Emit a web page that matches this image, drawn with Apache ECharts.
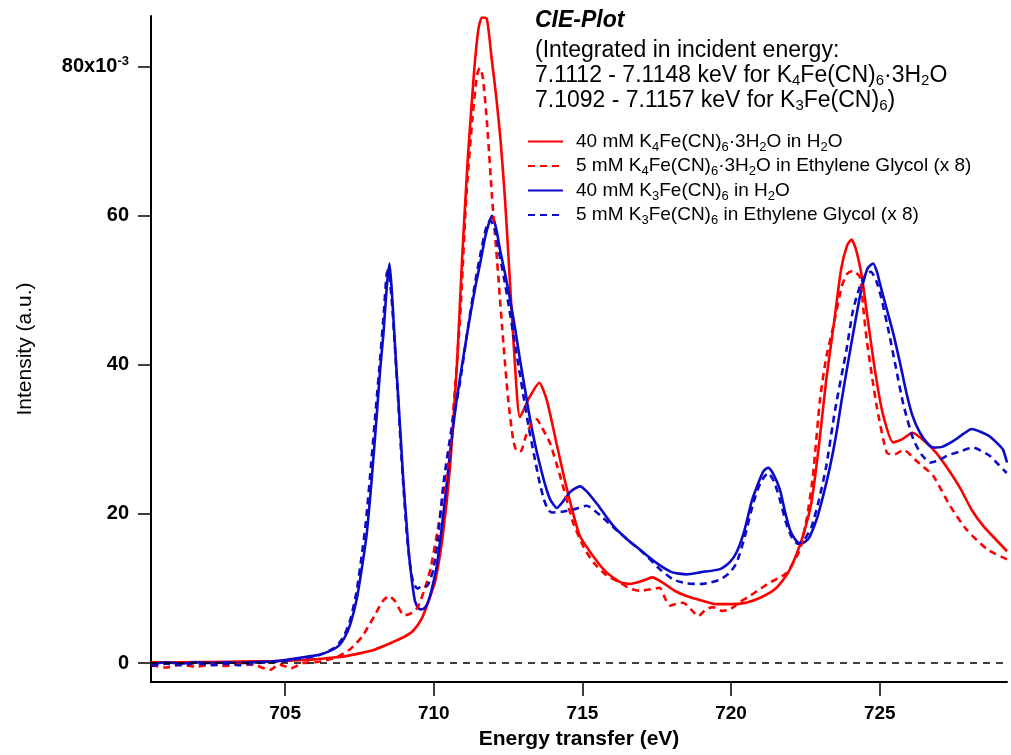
<!DOCTYPE html>
<html>
<head>
<meta charset="utf-8">
<script src="https://cdn.jsdelivr.net/npm/echarts@6/dist/echarts.min.js"></script>
<style>
html,body{margin:0;padding:0;background:#fff;}
#chart{width:1011px;height:755px;}
</style>
</head>
<body>
<div id="chart"></div>
<script>
// Intensity values in units of 1e-3 (axis reads "80x10^-3")
const xTicks = [705, 710, 715, 720, 725];
const yTicks = [0, 20, 40, 60, 80];

const seriesNames = [
  '40 mM K4Fe(CN)6·3H2O in H2O',
  '5 mM K4Fe(CN)6·3H2O in Ethylene Glycol (x 8)',
  '40 mM K3Fe(CN)6 in H2O',
  '5 mM K3Fe(CN)6 in Ethylene Glycol (x 8)'
];
const legendRich = [
  '{t|40 mM K}{s|4}{t|Fe(CN)}{s|6}{t|·3H}{s|2}{t|O in H}{s|2}{t|O}',
  '{t|5 mM K}{s|4}{t|Fe(CN)}{s|6}{t|·3H}{s|2}{t|O in Ethylene Glycol (x 8)}',
  '{t|40 mM K}{s|3}{t|Fe(CN)}{s|6}{t| in H}{s|2}{t|O}',
  '{t|5 mM K}{s|3}{t|Fe(CN)}{s|6}{t| in Ethylene Glycol (x 8)}'
];

const redSolidE = [700.5,701.5,702.5,703.5,704.5,705.0,705.5,706.0,706.5,707.0,707.5,708.0,708.5,709.0,709.3,709.6,709.85,710.05,710.3,710.55,710.78,710.95,711.15,711.35,711.5,711.62,711.78,711.95,712.1,712.25,712.4,712.55,712.7,712.9,713.2,713.55,713.8,714.1,714.45,714.9,715.35,715.8,716.25,716.6,717.0,717.35,717.7,718.1,718.5,719.0,719.5,720.0,720.5,721.0,721.5,721.9,722.2,722.45,722.7,722.95,723.2,723.45,723.7,723.9,724.05,724.2,724.4,724.6,724.85,725.1,725.45,725.75,726.1,726.5,726.9,727.3,727.7,728.1,728.5,728.9,729.28];
const redSolidI = [0.1,0.1,0.15,0.2,0.25,0.3,0.4,0.5,0.7,0.9,1.3,1.8,2.6,3.5,4.3,6.0,8.6,11.0,17,26.4,40,54,68,79,85,86.6,86.5,81,76,70,62,52,42,33.0,35.5,37.6,35.3,30.0,23.8,17.2,14.4,12.2,10.9,10.6,11.0,11.5,10.8,9.7,9.0,8.4,7.9,7.9,8.1,8.8,10.0,12.0,14.6,17.5,21.5,29,38,45.3,52.8,56.0,56.8,55.5,51.8,46.0,39.0,33.5,29.6,30.0,30.9,29.8,28.2,26.0,23.5,20.5,18.3,16.6,15.0];

const redDashE = [700.5,701,701.5,702,702.5,703,703.5,704,704.5,704.8,705.2,705.6,706.0,706.4,706.75,707.2,707.6,708.0,708.3,708.5,708.7,709.0,709.2,709.45,709.7,709.9,710.2,710.55,710.88,711.1,711.3,711.45,711.55,711.65,711.8,711.96,712.13,712.3,712.5,712.67,712.8,712.95,713.1,713.3,713.46,713.65,713.91,714.25,714.69,715.05,715.37,715.8,716.26,716.6,716.94,717.3,717.6,717.8,717.95,718.2,718.39,718.65,718.9,719.15,719.4,719.7,719.96,720.3,720.63,721.0,721.3,721.6,721.87,722.1,722.32,722.55,722.75,722.99,723.2,723.44,723.72,723.9,724.1,724.33,724.45,724.56,724.9,725.24,725.5,725.8,726.24,726.8,727.36,727.92,728.6,729.28];
const redDashI = [-0.3,-0.6,-0.2,-0.5,-0.2,-0.4,-0.1,-0.3,-0.9,-0.2,-0.7,0.0,0.1,0.4,0.8,1.9,3.6,6.3,8.4,9.0,8.3,6.4,6.6,7.4,10.0,12.8,19.5,29.0,46.0,63,73,78.8,79.8,78.6,72,62.5,54,45,35.5,30.0,28.4,28.5,30.5,32.2,32.7,31.5,29.5,25.1,18.8,15.5,13.5,11.8,10.8,10.0,9.7,9.9,10.1,8.5,7.7,8.0,8.1,7.2,6.3,7.2,7.5,7.0,7.2,8.2,9.0,10.0,10.8,11.4,12.1,13.5,15.3,19.5,25,35.3,41,45.2,50.5,52.2,52.6,51.8,47.5,43.4,34.4,28.2,28.0,28.6,27.1,25.1,21.1,17.9,15.3,13.9];

const blueSolidE = [700.5,701,701.5,702,702.5,703,703.5,704,704.5,705.0,705.5,706.0,706.3,706.6,706.8,707.0,707.2,707.41,707.6,707.75,707.92,708.08,708.2,708.31,708.42,708.51,708.58,708.64,708.72,708.81,708.9,708.98,709.07,709.15,709.26,709.37,709.5,709.6,709.72,709.82,709.95,710.1,710.27,710.44,710.6,710.77,711.0,711.22,711.4,711.56,711.75,711.96,712.1,712.23,712.4,712.57,712.74,712.9,713.07,713.24,713.4,713.57,713.74,713.91,714.14,714.35,714.6,714.92,715.15,715.5,716.04,716.5,717.0,717.5,718.0,718.5,719.0,719.63,719.95,720.19,720.45,720.7,720.95,721.1,721.25,721.4,721.64,721.82,721.98,722.15,722.32,722.5,722.65,722.88,723.1,723.33,723.55,723.72,723.92,724.11,724.3,724.44,724.6,724.78,724.92,725.0,725.2,725.45,725.68,725.9,726.1,726.35,726.6,726.8,727.1,727.48,727.8,728.09,728.4,728.7,729.0,729.15,729.28];
const blueSolidI = [-0.2,0.1,-0.1,0.1,0.0,0.1,0.0,0.15,0.2,0.4,0.7,1.0,1.3,1.8,2.3,3.4,5.3,8.6,13.2,17.5,25,33.1,39.5,44.3,50.5,53.6,50.5,46.5,41,35.3,29.5,24.2,19.5,15.3,11.2,8.3,7.3,7.2,7.5,8.3,10.2,13.0,18.2,24.2,30,35.3,41.2,46.5,50.5,53.6,57.5,60.0,58.3,55.4,52.2,48.7,44.8,40.7,36.7,32.7,29.5,26.6,24.0,22.0,20.8,21.7,23.0,23.7,23.0,21.3,18.4,16.6,15.0,13.4,12.2,11.9,12.2,12.6,13.5,14.9,17.8,21.8,24.5,25.8,26.2,25.5,23.3,20.2,17.9,16.6,16.0,16.3,17.0,19.3,22.5,26.4,31,35.3,40,44.3,48.5,51.0,53.0,53.6,52.3,51.0,48.0,44.3,40.3,36.2,33.2,30.9,29.5,28.9,29.0,29.8,30.7,31.4,31.0,30.4,29.3,28.6,26.9];

const blueDashE = [700.5,701,701.5,702,702.5,703,703.5,704,704.5,705,705.5,706,706.3,706.6,706.8,707.0,707.2,707.4,707.58,707.72,707.9,708.05,708.2,708.32,708.44,708.52,708.6,708.7,708.8,708.9,709.0,709.1,709.2,709.31,709.45,709.6,709.76,709.88,709.99,710.15,710.33,710.6,710.88,711.15,711.39,711.6,711.75,711.89,712.05,712.2,712.37,712.54,712.7,712.87,713.04,713.2,713.37,713.54,713.7,713.84,713.97,714.3,714.69,715.14,715.6,716.04,716.6,717.15,717.6,718.06,718.5,718.95,719.3,719.63,719.95,720.19,720.45,720.75,721.0,721.25,721.45,721.65,721.85,722.05,722.25,722.45,722.7,722.95,723.2,723.5,723.88,724.1,724.33,724.5,724.7,724.88,725.05,725.3,725.55,725.8,726.13,726.4,726.69,727.0,727.25,727.7,728.14,728.4,728.7,729.0,729.27];
const blueDashI = [-0.4,-0.1,-0.3,0.0,-0.3,-0.1,-0.3,0.0,0.1,0.3,0.6,0.9,1.3,1.9,2.6,3.8,5.9,9.5,14.5,19,27,34,41,47,52.7,51.5,48,42,35.5,28.5,22.5,17,13.3,10.8,10.0,10.3,10.3,11.2,12.6,17,24.2,31.5,37.6,45,51.0,55.5,58.2,59.4,58.4,55,51.5,47.5,43.5,39.4,35.3,31.5,28.0,24.6,22.0,20.6,20.2,20.3,20.6,21.1,19.8,18.2,16.3,14.4,12.6,11.2,10.7,10.6,10.8,11.2,12.1,13.5,16.8,21.5,24.3,25.5,24.3,21.8,18.8,16.8,16.0,16.5,18.2,21.8,26.4,34,42.0,47.3,50.5,51.9,52.5,51.3,49.0,44.5,39.5,34.6,30.0,28.0,26.9,27.2,27.8,28.4,28.9,28.5,27.8,26.6,25.5];

function pairs(e, v) { return e.map((x, i) => [x, v[i]]); }

const RED = '#ff0000';
const BLUE = '#0a0ac8';
const FONT = '"Liberation Sans", Arial, sans-serif';

const chart = echarts.init(document.getElementById('chart'), null, {renderer: 'canvas'});

function lineSeries(idx, data, color, dashed) {
  return {
    name: seriesNames[idx],
    type: 'line',
    data: data,
    showSymbol: false,
    symbol: 'none',
    smooth: 0.2,
    animation: false,
    z: dashed ? 3 : 2,
    lineStyle: {color: color, width: 2.6, type: dashed ? [7, 5] : 'solid'},
    itemStyle: {color: color}
  };
}

const series = [
  lineSeries(0, pairs(redSolidE, redSolidI), RED, false),
  lineSeries(1, pairs(redDashE, redDashI), RED, true),
  lineSeries(2, pairs(blueSolidE, blueSolidI), BLUE, false),
  lineSeries(3, pairs(blueDashE, blueDashI), BLUE, true)
];
series[0].markLine = {
  silent: true,
  symbol: 'none',
  label: {show: false},
  animation: false,
  lineStyle: {color: '#000', type: [7, 6], width: 1.5},
  data: [{yAxis: 0}]
};

const richFmt = {
  t: {fontSize: 19, fontFamily: FONT, color: '#000', lineHeight: 24},
  s: {fontSize: 13, fontFamily: FONT, color: '#000', lineHeight: 13, verticalAlign: 'bottom'}
};
const annRich = {
  t: {fontSize: 23, fontFamily: FONT, color: '#000', lineHeight: 25},
  s: {fontSize: 15, fontFamily: FONT, color: '#000', lineHeight: 15, verticalAlign: 'bottom'}
};

const option = {
  backgroundColor: '#fff',
  animation: false,
  grid: {left: 151, right: 4, top: 16, bottom: 72, containLabel: false},
  xAxis: {
    type: 'value',
    min: 700.49,
    max: 729.28,
    name: 'Energy transfer (eV)',
    nameLocation: 'middle',
    nameGap: 47,
    nameTextStyle: {fontFamily: FONT, fontWeight: 'bold', fontSize: 21, color: '#000'},
    axisLine: {show: true, onZero: false, lineStyle: {color: '#000', width: 2}},
    axisTick: {show: true, inside: false, length: 14, lineStyle: {color: '#000', width: 1.5}, customValues: xTicks},
    axisLabel: {show: true, margin: 22, fontFamily: FONT, fontWeight: 'bold', fontSize: 19, color: '#000', customValues: xTicks},
    splitLine: {show: false}
  },
  yAxis: {
    type: 'value',
    min: -2.54,
    max: 86.8,
    name: 'Intensity (a.u.)',
    nameLocation: 'middle',
    nameGap: 115,
    nameTextStyle: {fontFamily: FONT, fontSize: 21, color: '#000'},
    axisLine: {show: true, onZero: false, lineStyle: {color: '#000', width: 2}},
    axisTick: {show: true, inside: false, length: 13, lineStyle: {color: '#000', width: 1.5}, customValues: yTicks},
    axisLabel: {
      show: true, margin: 22, customValues: yTicks,
      formatter: function (v) {
        return v === 80 ? '{b|80x10}{sup|-3}' : '{b|' + v + '}';
      },
      rich: {
        b: {fontFamily: FONT, fontWeight: 'bold', fontSize: 20, color: '#000', lineHeight: 22},
        sup: {fontFamily: FONT, fontWeight: 'bold', fontSize: 13, color: '#000', padding: [0, 0, 10, 0]}
      }
    },
    splitLine: {show: false}
  },
  legend: {
    show: true,
    orient: 'vertical',
    left: 527,
    top: 132,
    itemWidth: 35,
    itemHeight: 12,
    itemGap: 3,
    padding: 0,
    data: seriesNames,
    itemStyle: {opacity: 0},
    formatter: function (name) { return legendRich[seriesNames.indexOf(name)]; },
    textStyle: {fontFamily: FONT, fontSize: 19, color: '#000', padding: [0, 0, 0, 8], rich: richFmt}
  },
  graphic: [
    {type: 'text', left: 535, top: 9, silent: true,
     style: {text: 'CIE-Plot', font: 'italic bold 23px ' + FONT, fill: '#000'}},
    {type: 'text', left: 535, top: 39, silent: true,
     style: {text: '{t|(Integrated in incident energy:}', rich: annRich}},
    {type: 'text', left: 535, top: 64, silent: true,
     style: {text: '{t|7.1112 - 7.1148 keV for K}{s|4}{t|Fe(CN)}{s|6}{t|·3H}{s|2}{t|O}', rich: annRich}},
    {type: 'text', left: 535, top: 89, silent: true,
     style: {text: '{t|7.1092 - 7.1157 keV for K}{s|3}{t|Fe(CN)}{s|6}{t|)}', rich: annRich}}
  ],
  series: series
};

chart.setOption(option);
</script>
</body>
</html>
